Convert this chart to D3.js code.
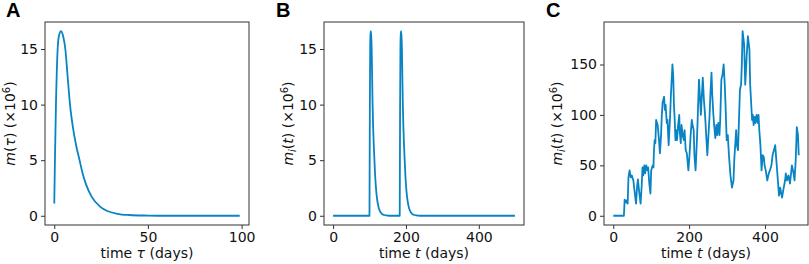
<!DOCTYPE html>
<html>
<head>
<meta charset="utf-8">
<script src="https://cdn.jsdelivr.net/npm/d3@7"></script>
<style>
  body { margin: 0; background: #fff; }
  svg { display: block; }
  text { font-family: "DejaVu Sans", sans-serif; }
</style>
</head>
<body>
<svg id="chart" width="809" height="264"></svg>
<script>
// panel A: single infection profile m(tau)
const tauA = [0, 0.35, 0.9, 1.8, 2.5, 3.6, 4.8, 5.9, 7, 8.4, 10, 11.7, 13.5, 15, 17, 20, 24.6, 28, 33.5, 40, 50, 60, 99];
const mA =   [1.1, 5, 10, 15, 16.2, 16.6, 16.1, 15, 12.8, 10, 7.9, 6.3, 5, 3.9, 2.8, 1.7, 0.8, 0.45, 0.18, 0.07, 0.02, 0, 0];

// panel B: two infections
const tB = [0, 99.8, 100, 100.9, 101.8, 102.5, 103.6, 104.8, 105.9, 107, 108.4, 110, 111.7, 113.5, 115, 117, 120, 124.6, 128, 133.5, 140, 150, 160,
            182.8, 183, 183.9, 184.8, 185.5, 186.6, 187.8, 188.9, 190, 191.4, 193, 194.7, 196.5, 198, 200, 203, 207.6, 211, 216.5, 223, 233, 243, 499];
const mB = [0, 0, 1.1, 10, 15, 16.2, 16.6, 16.1, 15, 12.8, 10, 7.9, 6.3, 5, 3.9, 2.8, 1.7, 0.8, 0.45, 0.18, 0.07, 0.02, 0,
            0, 1.1, 10, 15, 16.2, 16.6, 16.1, 15, 12.8, 10, 7.9, 6.3, 5, 3.9, 2.8, 1.7, 0.8, 0.45, 0.18, 0.07, 0.02, 0, 0];

// panel C: many infections
const tC = [0, 28, 30, 35, 37, 38, 40, 43, 46, 49, 53, 56, 60, 63, 65, 68, 72, 75, 77, 79, 82, 84, 87, 90, 92, 95, 98,
            100, 104, 106, 107, 109, 111, 113, 117, 120, 123, 126, 128, 130, 134, 136, 138, 141, 143, 146, 148, 150, 152, 156,
            158, 160, 162, 164, 166, 168, 171, 174, 175, 178, 180, 183, 186, 188, 191, 194, 198, 201, 204, 207, 209, 212, 214,
            217, 220, 222, 226, 229, 231, 236, 239, 242, 248, 251, 254, 256, 259, 261, 264, 266, 269, 272, 274, 277, 280, 282,
            285, 288, 291, 294, 296, 299, 302, 305, 309, 313, 317, 319, 324, 326, 329, 331, 334, 337, 339, 341, 345, 348, 352,
            355, 359, 361, 366, 368, 370, 373, 375, 378, 381, 383, 385, 388, 391, 394, 397, 399, 402, 406, 410, 413, 417, 420,
            427, 430, 434, 437, 440, 445, 448, 453, 455, 458, 462, 466, 471, 474, 478, 481, 484, 487, 489];
const mC = [0, 0, 16, 13, 16, 12, 38, 45, 38, 40, 35, 25, 12, 30, 36, 25, 12, 30, 48, 40, 50, 42, 50, 45, 48, 32, 22,
            45, 50, 48, 62, 75, 72, 95, 90, 78, 62, 80, 100, 112, 118, 105, 110, 92, 95, 70, 85, 100, 120, 150,
            140, 110, 95, 75, 85, 75, 90, 100, 85, 72, 90, 80, 75, 85, 65, 62, 45, 60, 80, 95, 90, 85, 60,
            45, 70, 90, 135, 115, 100, 137, 115, 100, 60, 80, 100, 120, 142, 120, 100, 90, 77, 90, 80, 92, 80, 95,
            135, 140, 150, 130, 110, 75, 80, 60, 40, 28, 35, 55, 85, 70, 65, 90, 125, 130, 150, 183, 170, 130, 160,
            178, 165, 130, 95, 100, 90, 98, 92, 100, 92, 100, 85, 70, 45, 60, 58, 50, 45, 35, 42, 45, 50, 60,
            70, 55, 35, 20, 28, 18, 25, 35, 42, 35, 40, 32, 50, 45, 35, 55, 88, 80, 60];

const xTicksA = [0, 50, 100];
const xTicksBC = [0, 200, 400];
const yTicksAB = [0, 5, 10, 15];
const yTicksC = [0, 50, 100, 150];

const lineColor = "#0884c4";
const svg = d3.select("#chart");

function panel(opt) {
  const g = svg.append("g");
  const x = d3.scaleLinear().domain(opt.xDomain).range([opt.left, opt.right]);
  const y = d3.scaleLinear().domain(opt.yDomain).range([225, 22]);

  const line = d3.line()
    .x((d, i) => x(opt.xs[i]))
    .y(d => y(d))
    .curve(opt.curve || d3.curveLinear);

  g.append("path")
    .datum(opt.ys)
    .attr("d", line)
    .attr("fill", "none")
    .attr("stroke", lineColor)
    .attr("stroke-width", 1.8)
    .attr("stroke-linejoin", "round");

  // axes
  let xAxis = g.append("g")
    .attr("transform", `translate(0,225)`)
    .call(d3.axisBottom(x).tickValues(opt.xTicks).tickSize(4).tickPadding(3).tickFormat(d3.format("d")));
  let yAxis = g.append("g")
    .attr("transform", `translate(${opt.left},0)`)
    .call(d3.axisLeft(y).tickValues(opt.yTicks).tickSize(4).tickPadding(3).tickFormat(d3.format("d")));
  [xAxis, yAxis].forEach(a => {
    a.select(".domain").remove();
    a.selectAll("line").attr("stroke", "#333");
    a.selectAll("text").attr("fill", "#111").style("font-size", "14px").style("font-family", "DejaVu Sans");
  });

  // frame
  g.append("rect")
    .attr("x", opt.left).attr("y", 22)
    .attr("width", opt.right - opt.left).attr("height", 203)
    .attr("fill", "none").attr("stroke", "#333").attr("stroke-width", 1);

  // x label
  let xl = g.append("text")
    .attr("x", (opt.left + opt.right) / 2).attr("y", 258)
    .attr("text-anchor", "middle").style("font-size", "14px").attr("fill", "#111");
  xl.append("tspan").text("time ");
  xl.append("tspan").style("font-style", "italic").text(opt.xVar);
  xl.append("tspan").text(" (days)");

  // y label
  let yl = g.append("text")
    .attr("transform", `translate(${opt.left - opt.ylOff},123.5) rotate(-90)`)
    .attr("text-anchor", "middle").style("font-size", "14px").attr("fill", "#111");
  yl.append("tspan").style("font-style", "italic").text("m");
  if (opt.sub) {
    yl.append("tspan").style("font-style", "italic").style("font-size", "10px").attr("dy", 3).text("i");
    yl.append("tspan").attr("dy", -3).text("(");
  } else {
    yl.append("tspan").text("(");
  }
  yl.append("tspan").style("font-style", "italic").text(opt.yVar);
  yl.append("tspan").text(") (×10");
  yl.append("tspan").style("font-size", "10px").attr("dy", -5).text("6");
  yl.append("tspan").attr("dy", 5).text(")");

  // panel letter
  svg.append("text")
    .attr("x", opt.letterX).attr("y", 17)
    .style("font-family", "Liberation Sans, Arial, sans-serif")
    .style("font-weight", "bold").style("font-size", "20px")
    .attr("fill", "#000").text(opt.letter);
}

panel({ letter: "A", letterX: 6, left: 45, right: 249, xDomain: [-4.95, 103.95], yDomain: [-0.83, 17.43], ylOff: 30,
        xs: tauA, ys: mA, xTicks: xTicksA, yTicks: yTicksAB, xVar: "τ", yVar: "τ", sub: false, curve: d3.curveMonotoneX });
panel({ letter: "B", letterX: 276, left: 324, right: 524, xDomain: [-24.95, 523.95], yDomain: [-0.83, 17.43], ylOff: 31,
        xs: tB, ys: mB, xTicks: xTicksBC, yTicks: yTicksAB, xVar: "t", yVar: "t", sub: true, curve: d3.curveMonotoneX });
panel({ letter: "C", letterX: 546, left: 604, right: 808, xDomain: [-24.45, 513.45], yDomain: [-9.15, 192.15], ylOff: 42,
        xs: tC, ys: mC, xTicks: xTicksBC, yTicks: yTicksC, xVar: "t", yVar: "t", sub: true });
</script>
</body>
</html>
